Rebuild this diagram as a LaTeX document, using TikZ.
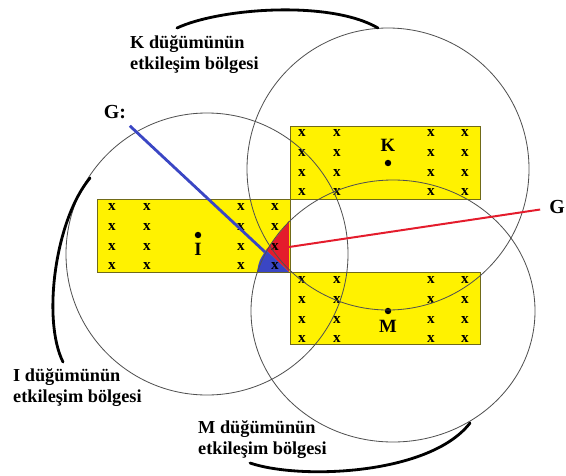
\documentclass[tikz,border=0pt]{standalone}
\usepackage{fontspec}
\setmainfont{Liberation Serif}
\usetikzlibrary{positioning}
\definecolor{zone}{RGB}{112,106,24}
\definecolor{rim}{RGB}{80,80,80}
\definecolor{gblue}{RGB}{58,70,196}
\definecolor{gred}{RGB}{228,28,44}

\begin{document}
\begin{tikzpicture}[x=0.03cm,y=-0.03cm,
  area/.style={fill=yellow,draw=zone,line width=0.6pt},
  reach/.style={draw=rim,line width=0.7pt},
  pointer/.style={line width=2.4pt,line cap=round},
  xmark/.style={inner sep=0pt,font=\fontsize{13}{13}\selectfont\bfseries},
  dot/.style={circle,fill=black,inner sep=0pt,minimum size=5.5pt},
  nodename/.style={inner sep=0pt,font=\fontsize{16}{16}\selectfont\bfseries},
  lbl/.style={inner sep=0pt,anchor=north west,align=left,
    font=\fontsize{15.6}{18}\selectfont\bfseries},
  glbl/.style={inner sep=0pt,font=\fontsize{17}{17}\selectfont\bfseries}]
  \useasboundingbox (0,0) rectangle (566,475);
  % node regions
  \draw[area] (97,199) rectangle (290,272);
  \draw[area] (290,126) rectangle (480,199);
  \draw[area] (290,272) rectangle (480,344);
  % G and G: corners
  \fill[gred] (289,221) -- (289,272) -- (266,250) -- cycle;
  \fill[gblue] (266,250) -- (289,272) -- (257,272) .. controls (259,261) .. (266,250) -- cycle;
  \coordinate (redtip) at (289,247);
  \coordinate (bluetip) at (265,252);
  % x marks
  \foreach \x in {112,147,241,275}
    \foreach \y in {207,227,247,266}
      \node[xmark] (xi-\x-\y) at (\x,\y) {x};
  \foreach \x in {302,337,431,465} {
    \foreach \y in {133,153,173,192}
      \node[xmark] (xk-\x-\y) at (\x,\y) {x};
    \foreach \y in {280,300,320,339}
      \node[xmark] (xm-\x-\y) at (\x,\y) {x};
  }
  % nodes I, K, M
  \node[dot] (I) at (198,235) {};
  \node[dot] (K) at (388,163) {};
  \node[dot] (M) at (388,311) {};
  \node[nodename,below=0.15cm of I] (Iname) {I};
  \node[nodename,above=0.22cm of K] (Kname) {K};
  \node[nodename,below=0.17cm of M] (Mname) {M};
  % interaction ranges
  \draw[reach] (207,254) circle[radius=141];
  \draw[reach] (388,169) circle[radius=141];
  \draw[reach] (393,311) ellipse[x radius=142,y radius=131];
  % labels
  \node[lbl] (Ktxt) at (130,35) {K düğümünün\\etkileşim bölgesi};
  \node[lbl] (Itxt) at (13,368) {I düğümünün\\etkileşim bölgesi};
  \node[lbl] (Mtxt) at (198,420) {M düğümünün\\etkileşim bölgesi};
  \node[glbl] (Gb) at (115,112) {G:};
  \node[glbl] (Gr) at (557,207) {G};
  % pointers
  \coordinate (k1) at (177,28);  \coordinate (k2) at (378,28);
  \coordinate (i1) at (90,178);  \coordinate (i2) at (63,362);
  \coordinate (m1) at (250,463); \coordinate (m2) at (470,423);
  \draw[pointer] (k1) .. controls (220,8) and (330,0) .. (k2);
  \draw[pointer] (i1) .. controls (55,220) and (42,320) .. (i2);
  \draw[pointer] (m1) .. controls (300,480) and (430,475) .. (m2);
  \draw[gblue,line width=2.4pt,shorten <=0.3cm] (Gb) -- (bluetip);
  \draw[gred,line width=1.7pt,shorten >=0.27cm] (redtip) -- (Gr);
\end{tikzpicture}
\end{document}
